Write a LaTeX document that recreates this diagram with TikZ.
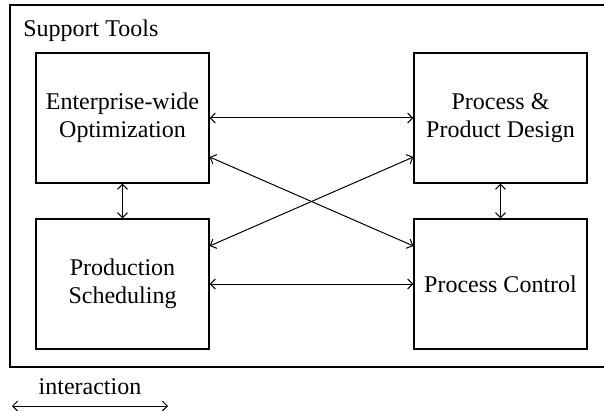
\documentclass[tikz,border=0pt]{standalone}
\usepackage{fontspec}
\setmainfont{Liberation Serif}
\usetikzlibrary{arrows.meta}
\tikzset{
    tool box/.style={
        draw=black, line width=0.6pt, minimum width=86.5pt, minimum height=65pt,
        inner sep=0pt, align=center, font=\fontsize{12}{14}\selectfont
    },
    interaction/.style={
        {Straight Barb[length=2.5pt,width=5pt]}-{Straight Barb[length=2.5pt,width=5pt]},
        line width=0.5pt
    },
    label text/.style={font=\fontsize{12}{14}\selectfont, inner sep=0pt},
}

\begin{document}
\begin{tikzpicture}[x=0.5pt, y=-0.5pt]

    \useasboundingbox (0,0) rectangle (604,411);

    % outer frame, right edge runs past the page
    \draw[line width=0.6pt] (10,5) rectangle (608,367);
    \node[label text, anchor=base west] (title) at (23,37) {Support Tools};

    \node[tool box] (ewo) at (122.5,118) {Enterprise-wide\\Optimization};
    \node[tool box] (ppd) at (500.5,118) {Process \&\\Product Design};
    \node[tool box] (ps)  at (122.5,284) {Production\\Scheduling};
    \node[tool box] (pc)  at (500.5,284) {Process Control};

    \draw[interaction] (ewo.east) -- (ppd.west);
    \draw[interaction] (ps.east) -- (pc.west);
    \draw[interaction] (ewo.south) -- (ps.north);
    \draw[interaction] (ppd.south) -- (pc.north);

    \draw[interaction] ([yshift=-19.5pt]ewo.east) -- ([yshift=19pt]pc.west);
    \draw[interaction] ([yshift=19pt]ps.east) -- ([yshift=-19.5pt]ppd.west);

    % legend
    \node[label text, anchor=base] (legend) at (90,394) {interaction};
    \coordinate (legL) at (12,406);
    \coordinate (legR) at (168,406);
    \draw[interaction] (legL) -- (legR);

\end{tikzpicture}
\end{document}
